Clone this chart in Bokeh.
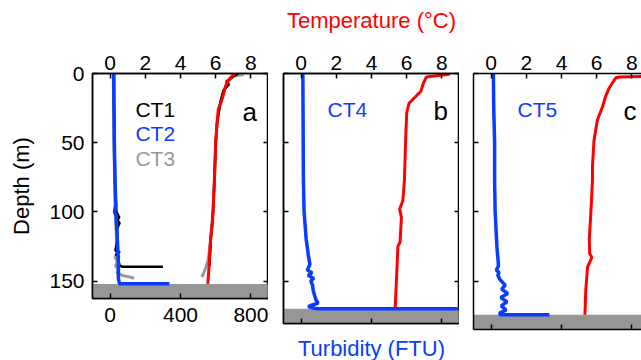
from bokeh.plotting import figure
from bokeh.models import Range1d, LinearAxis, FixedTicker, Label, BoxAnnotation
from bokeh.layouts import row
from bokeh.embed import file_html
from bokeh.resources import INLINE

# ---------------- data ----------------
# Panel a (CT1, CT2, CT3)
ct2_turb_depth = [0, 10, 25, 50, 77, 95, 100, 103, 110, 125, 137, 148, 152, 152]
ct2_turb = [21, 21, 22, 24, 28, 32, 25, 34, 37, 43, 47, 47, 53, 337]
ct2_temp_depth = [0, 1, 3, 5, 8, 12, 17, 21, 26, 35, 50, 77, 100, 110, 118, 125, 140, 152]
ct2_temp = [7.1, 7.0, 6.85, 6.7, 6.6, 6.5, 6.4, 6.3, 6.15, 6.08, 6.0, 5.93, 5.85, 5.8, 5.72, 5.68, 5.62, 5.55]

ct1_turb_depth = [0, 25, 50, 80, 100, 104, 106, 108, 112, 120, 128, 129, 131, 132, 136, 139, 139.7, 139.7]
ct1_turb = [22, 23, 25, 29, 36, 52, 40, 54, 40, 42, 30, 55, 32, 50, 48, 55, 72, 300]
ct1_temp_depth = [0, 2, 4, 6, 8, 12, 20, 35, 50, 80, 100, 120, 139]
ct1_temp = [7.3, 7.0, 6.8, 6.6, 6.75, 6.45, 6.28, 6.08, 6.0, 5.92, 5.85, 5.72, 5.65]

ct3_turb_depth = [0, 25, 50, 80, 100, 110, 120, 130, 133, 136, 139, 142, 144, 146, 147, 148]
ct3_turb = [18, 20, 22, 26, 30, 33, 36, 38, 28, 42, 30, 50, 38, 70, 110, 136]
ct3_temp_depth = [0.8, 1.5, 3, 8, 15, 25, 35, 50, 77, 100, 110, 120, 130, 136, 141, 145, 147]
ct3_temp = [7.6, 7.2, 6.9, 6.6, 6.4, 6.2, 6.1, 6.0, 5.92, 5.84, 5.78, 5.72, 5.62, 5.55, 5.42, 5.3, 5.2]

# Panel b (CT4)
ct4_turb_depth = [0, 25, 50, 77, 100, 120, 132, 138, 142, 144, 146, 148, 150, 153, 157, 161, 164, 166, 167.5, 168.5, 169.5, 170, 170]
ct4_turb = [10, 11, 12, 13, 17, 29, 42, 50, 35, 62, 40, 72, 55, 65, 69, 78, 86, 97, 60, 40, 70, 95, 900]
ct4_temp_depth = [0.5, 1.5, 2.3, 3.0, 7, 13, 15.5, 21.5, 28.6, 48, 77, 92, 98, 104, 122, 125, 169]
ct4_temp = [8.45, 7.8, 7.2, 7.1, 6.95, 6.8, 6.6, 6.13, 6.0, 5.94, 5.87, 5.78, 5.6, 5.7, 5.62, 5.5, 5.35]

# Panel c (CT5)
ct5_turb_depth = [0, 25, 50, 77, 100, 125, 139, 142, 144, 146, 149, 153, 156, 159, 162, 165, 168, 171, 173, 174.4, 174.4]
ct5_turb = [13, 15, 20, 20, 23, 33, 42, 30, 45, 38, 51, 80, 60, 95, 55, 90, 58, 85, 50, 51, 331]
ct5_temp_depth = [2.0, 2.6, 3.0, 4.7, 10.7, 16.7, 24, 33.6, 48, 67, 77, 100, 120, 130, 133, 140, 156.5, 174.4]
ct5_temp = [9.0, 7.3, 7.1, 7.0, 6.7, 6.5, 6.33, 6.04, 5.85, 5.76, 5.76, 5.67, 5.58, 5.6, 5.72, 5.48, 5.38, 5.33]

seabed_depth = [152.2, 170.0, 174.4]
panel_letters = ["a", "b", "c"]
temp_ticks = [0, 2, 4, 6, 8]
turb_ticks = [0, 400, 800]
depth_ticks = [0, 50, 100, 150]

# ---------------- style ----------------
FONT = "Liberation Sans"
BLUE = "#0a3cff"
RED = "#ff0000"
GRAY = "#999999"
SEABED = "#969696"
PX_PER_C = 17.6
PX_PER_M = 207.5 / 150.0


def style_axis(ax, size="21px"):
    ax.major_tick_in = 5
    ax.major_tick_out = 0
    ax.minor_tick_in = 5
    ax.minor_tick_out = 0
    ax.axis_line_color = "black"
    ax.axis_line_width = 1.5
    ax.major_tick_line_color = "black"
    ax.minor_tick_line_color = "black"
    ax.major_tick_line_width = 1.5
    ax.minor_tick_line_width = 1.5
    ax.major_label_text_font = FONT
    ax.major_label_text_color = "black"
    ax.major_label_text_font_size = size
    ax.axis_label_text_font = FONT
    ax.axis_label_text_font_size = "22px"
    ax.axis_label_text_font_style = "normal"
    ax.axis_label_text_color = "black"


def bare_ticker(ticks):
    # tick marks only (drawn as minor ticks), no tick labels
    return FixedTicker(ticks=[], minor_ticks=ticks)


def make_panel(frame_w, frame_h, left_border, bottom_border, labelled_left, labelled_bottom,
               right_axis=True, outline=True):
    x_max = -1 + frame_w / PX_PER_C
    y_max = frame_h / PX_PER_M
    p = figure(frame_width=frame_w, frame_height=frame_h,
               x_range=Range1d(-1, x_max), y_range=Range1d(y_max, 0),
               x_axis_location="above", y_axis_location="left",
               output_backend="svg", toolbar_location=None,
               min_border_left=left_border, min_border_right=0,
               min_border_top=73, min_border_bottom=bottom_border)
    p.extra_x_ranges = {"turb": Range1d(-100, x_max * 100)}
    p.xgrid.visible = False
    p.ygrid.visible = False
    p.background_fill_color = "white"
    p.border_fill_color = "white"
    p.outline_line_color = "black" if outline else None
    p.outline_line_width = 1.5
    top = p.xaxis[0]
    top.ticker = FixedTicker(ticks=temp_ticks)
    style_axis(top)
    top.major_label_standoff = 4
    left = p.yaxis[0]
    left.ticker = FixedTicker(ticks=depth_ticks) if labelled_left else bare_ticker(depth_ticks)
    style_axis(left)
    bottom = LinearAxis(x_range_name="turb",
                        ticker=FixedTicker(ticks=turb_ticks) if labelled_bottom else bare_ticker(turb_ticks))
    style_axis(bottom)
    p.add_layout(bottom, "below")
    if right_axis:
        right = LinearAxis(ticker=bare_ticker(depth_ticks))
        style_axis(right)
        p.add_layout(right, "right")
    return p, top, left, bottom, y_max


# ---- panel a ----
pa, ta, la, ba, ya = make_panel(176, 225, 92, 62, True, True)
la.major_label_standoff = 8
la.axis_label = "Depth (m)"
la.axis_label_standoff = 12
ba.major_label_standoff = 9
pa.add_layout(BoxAnnotation(top=seabed_depth[0], bottom=ya, fill_color=SEABED, fill_alpha=1,
                            line_color=None, level="underlay"))
pa.line(ct3_turb, ct3_turb_depth, x_range_name="turb", line_color=GRAY, line_width=3)
pa.line(ct3_temp, ct3_temp_depth, line_color=GRAY, line_width=3)
pa.line(ct1_turb, ct1_turb_depth, x_range_name="turb", line_color="black", line_width=2.5)
pa.line(ct1_temp, ct1_temp_depth, line_color="black", line_width=2.5)
pa.line(ct2_turb, ct2_turb_depth, x_range_name="turb", line_color=BLUE, line_width=3.5)
pa.line(ct2_temp, ct2_temp_depth, line_color=RED, line_width=3)
for txt, col, yy in [("CT1", "black", 25.7), ("CT2", BLUE, 43.7), ("CT3", GRAY, 61.8)]:
    pa.add_layout(Label(x=1.44, y=yy, text=txt, text_color=col, text_font=FONT,
                        text_font_size="21px", text_baseline="alphabetic"))
pa.add_layout(Label(x=7.52, y=27.6, text=panel_letters[0], text_color="black", text_font=FONT,
                    text_font_size="26px", text_baseline="alphabetic"))

# ---- panel b ----
pb, tb, lb, bb, yb = make_panel(176, 250, 15, 37, False, False)
tb.axis_label = "Temperature (°C)"
tb.axis_label_text_color = RED
tb.axis_label_standoff = 20
bb.axis_label = "Turbidity (FTU)"
bb.axis_label_text_color = BLUE
bb.axis_label_standoff = 12
pb.add_layout(BoxAnnotation(top=seabed_depth[1], bottom=yb, fill_color=SEABED, fill_alpha=1,
                            line_color=None, level="underlay"))
pb.line(ct4_turb, ct4_turb_depth, x_range_name="turb", line_color=BLUE, line_width=3.5)
pb.line(ct4_temp, ct4_temp_depth, line_color=RED, line_width=3)
pb.add_layout(Label(x=1.5, y=25.7, text="CT4", text_color=BLUE, text_font=FONT,
                    text_font_size="21px", text_baseline="alphabetic"))
pb.add_layout(Label(x=7.52, y=27.1, text=panel_letters[1], text_color="black", text_font=FONT,
                    text_font_size="26px", text_baseline="alphabetic"))

# ---- panel c ----
pc, tc, lc, bc, yc = make_panel(168, 256, 14, 31, False, False, right_axis=False, outline=False)
pc.add_layout(BoxAnnotation(top=seabed_depth[2], bottom=yc, fill_color=SEABED, fill_alpha=1,
                            line_color=None, level="underlay"))
pc.line(ct5_turb, ct5_turb_depth, x_range_name="turb", line_color=BLUE, line_width=3.5)
pc.line(ct5_temp, ct5_temp_depth, line_color=RED, line_width=3)
pc.add_layout(Label(x=1.5, y=25.7, text="CT5", text_color=BLUE, text_font=FONT,
                    text_font_size="21px", text_baseline="alphabetic"))
pc.add_layout(Label(x=7.52, y=27.1, text=panel_letters[2], text_color="black", text_font=FONT,
                    text_font_size="26px", text_baseline="alphabetic"))

layout = row(pa, pb, pc, spacing=0)
open("out.html", "w").write(file_html(layout, INLINE))
